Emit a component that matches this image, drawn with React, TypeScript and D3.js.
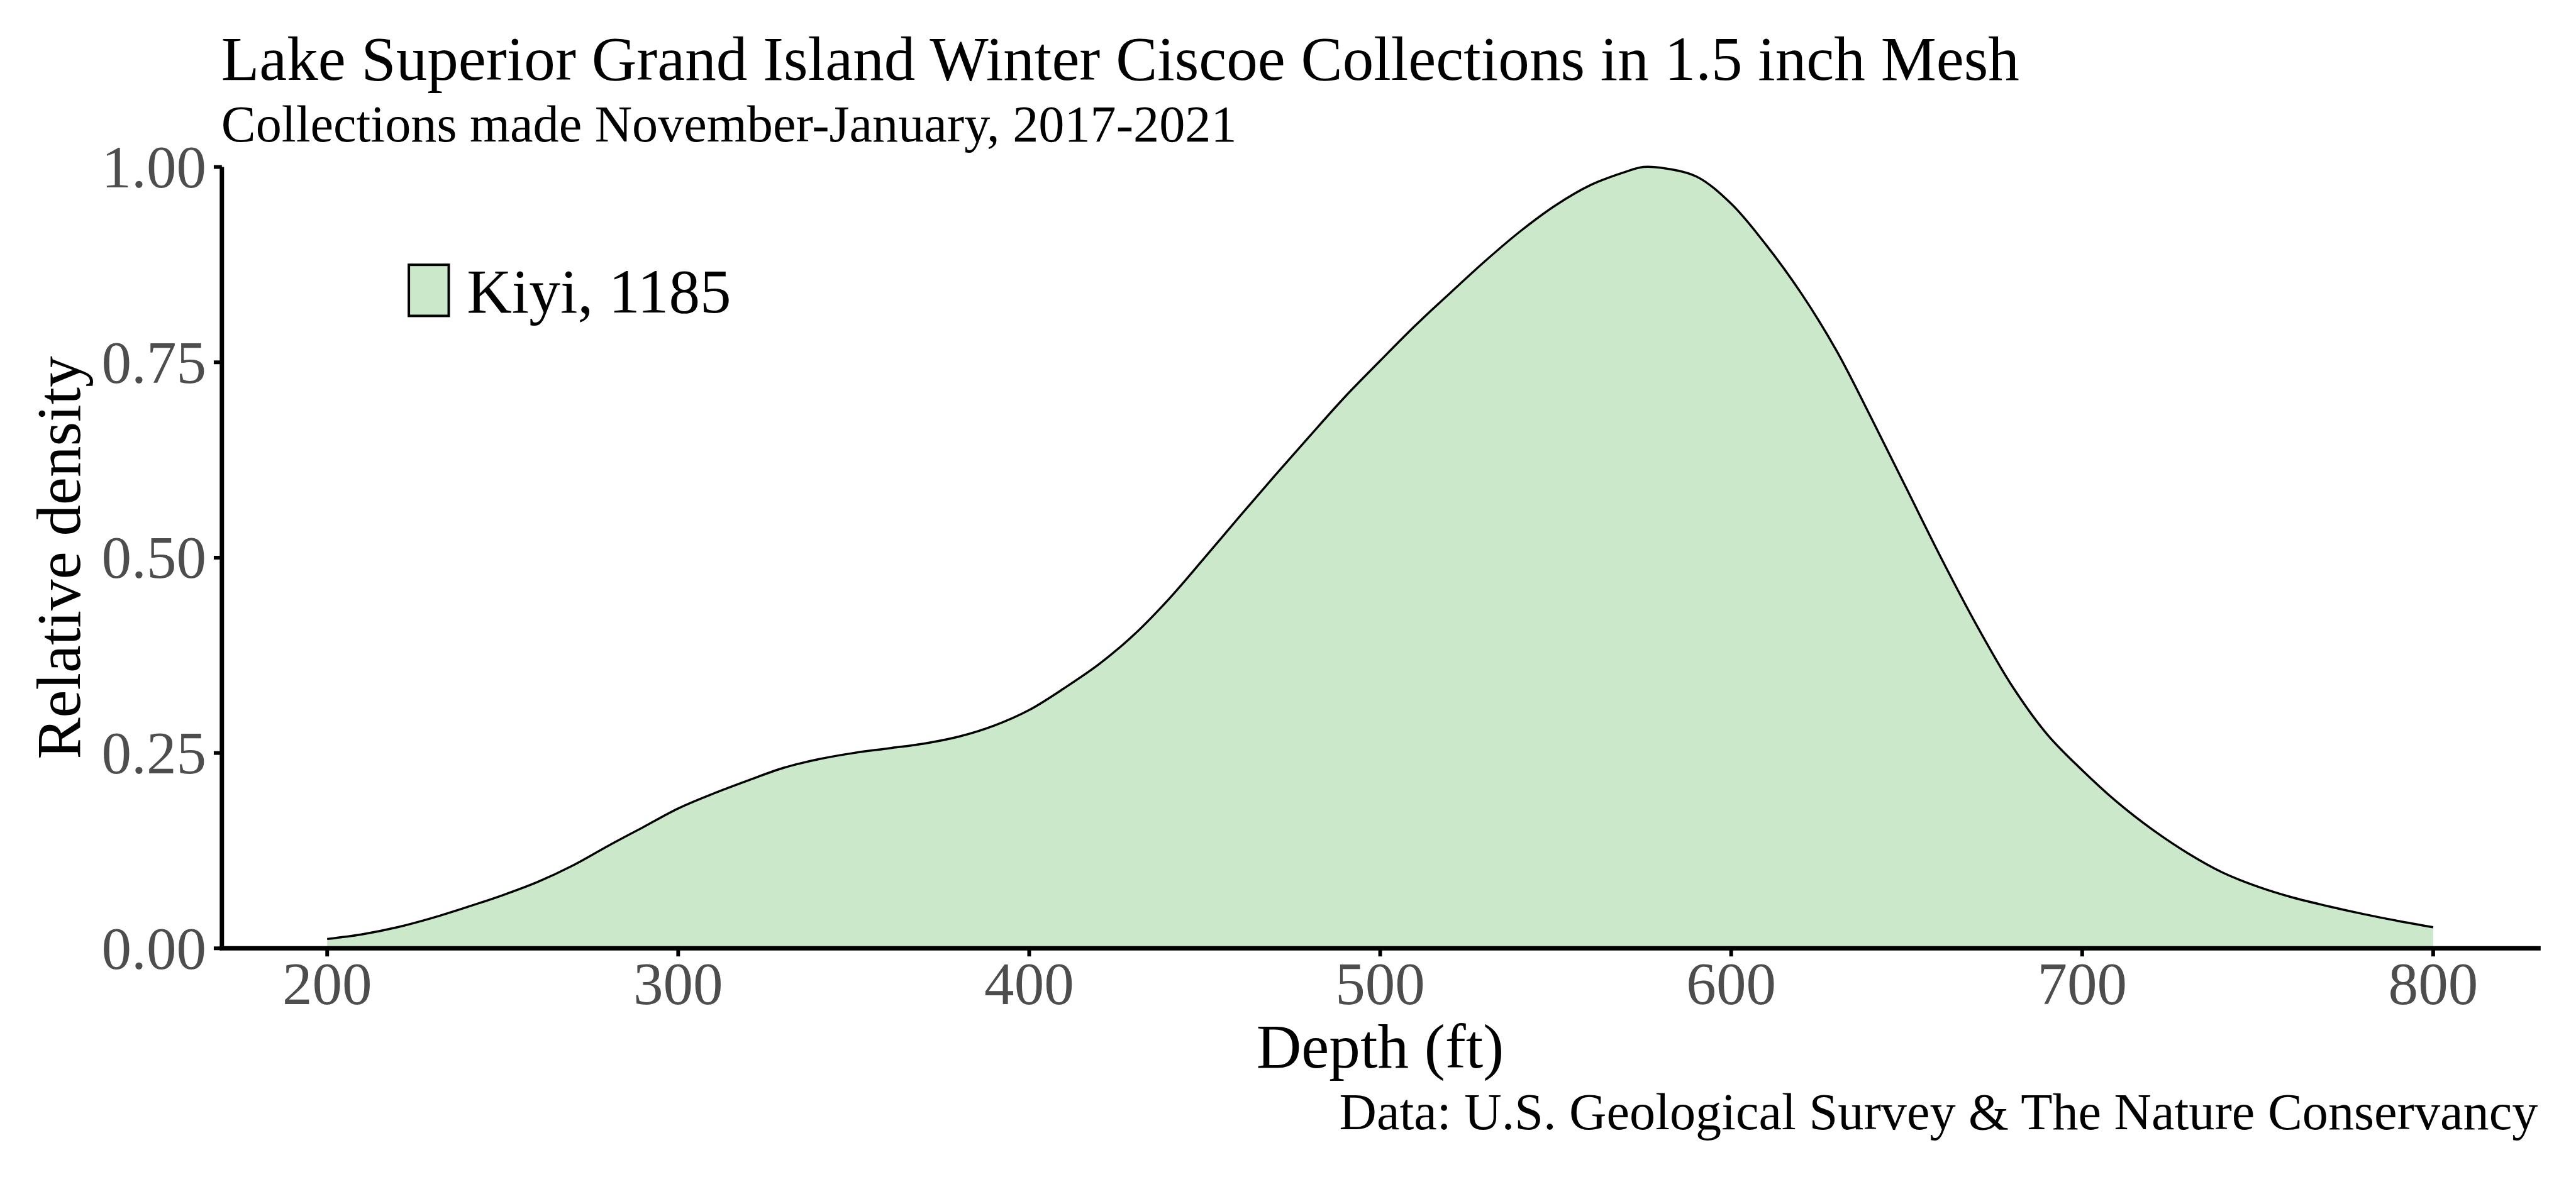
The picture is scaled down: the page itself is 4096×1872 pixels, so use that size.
import * as d3 from "d3";

// depth (ft) and relative density
const depths = [
  200, 210, 220, 230, 240, 250, 260, 270, 280, 290, 300, 310, 320, 330, 340,
  350, 360, 370, 380, 390, 400, 410, 420, 430, 440, 450, 460, 470, 480, 490,
  500, 510, 520, 530, 540, 550, 560, 570, 575, 580, 590, 600, 610, 620, 630,
  640, 650, 660, 670, 680, 690, 700, 710, 720, 730, 740, 750, 760, 770, 780,
  790, 800,
];
const density = [
  0.012, 0.018, 0.027, 0.039, 0.053, 0.068, 0.085, 0.106, 0.131, 0.155, 0.179,
  0.198, 0.215, 0.231, 0.242, 0.25, 0.256, 0.262, 0.271, 0.285, 0.305, 0.333,
  0.364, 0.402, 0.448, 0.5, 0.553, 0.605, 0.656, 0.706, 0.752, 0.797, 0.839,
  0.88, 0.918, 0.951, 0.977, 0.994, 1.0, 0.999, 0.988, 0.953, 0.9, 0.838,
  0.765, 0.678, 0.588, 0.498, 0.413, 0.336, 0.274, 0.228, 0.187, 0.152, 0.122,
  0.097, 0.079, 0.065, 0.054, 0.044, 0.035, 0.027,
];
const xTicks = [200, 300, 400, 500, 600, 700, 800];
const yTicks = [0, 0.25, 0.5, 0.75, 1];

const titleText = "Lake Superior Grand Island Winter Ciscoe Collections in 1.5 inch Mesh";
const subtitleText = "Collections made November-January, 2017-2021";
const captionText = "Data: U.S. Geological Survey & The Nature Conservancy";
const legendLabel = "Kiyi, 1185";

const FILL = "#cce8cb";
const FONT = "'Liberation Serif', 'Times New Roman', serif";

export default function App() {
  const S = 0.991;
  const left = 356;
  const right = 4073;
  const top = 268;
  const bottom = 1522;

  const x = d3.scaleLinear().domain([170, 830]).range([left, right]);
  const y = d3.scaleLinear().domain([0, 1]).range([bottom, top]);

  const pts = depths.map((d, i) => [d, density[i]] as [number, number]);

  const area = d3
    .area<[number, number]>()
    .x((d) => x(d[0]))
    .y0(y(0))
    .y1((d) => y(d[1]))
    .curve(d3.curveCatmullRom.alpha(0.5));
  const line = d3
    .line<[number, number]>()
    .x((d) => x(d[0]))
    .y((d) => y(d[1]))
    .curve(d3.curveCatmullRom.alpha(0.5));

  return (
    <svg
      width={4096}
      height={1872}
      style={{ position: "absolute", left: 0, top: 0, background: "#fff" }}
      fontFamily={FONT}
    >
      <rect width={4096} height={1872} fill="#fff" />
      <g transform={`scale(${S})`}>
        {/* titles */}
        <text x={355} y={128} fontSize={100} fill="#000">
          {titleText}
        </text>
        <text x={355} y={227} fontSize={83} fill="#000">
          {subtitleText}
        </text>

        {/* density */}
        <path d={area(pts) ?? ""} fill={FILL} />
        <path d={line(pts) ?? ""} fill="none" stroke="#000" strokeWidth={3.5} />

        {/* axes */}
        <line x1={left} x2={left} y1={top} y2={bottom} stroke="#000" strokeWidth={7} />
        <line
          x1={left}
          x2={right}
          y1={bottom}
          y2={bottom}
          stroke="#000"
          strokeWidth={7}
          strokeLinecap="square"
        />
        {yTicks.map((t) => (
          <g key={`y${t}`}>
            <line x1={left - 13} x2={left} y1={y(t)} y2={y(t)} stroke="#000" strokeWidth={6} />
            <text
              x={331}
              y={y(t)}
              dy="0.34em"
              textAnchor="end"
              fontSize={96}
              fill="#4d4d4d"
            >
              {t.toFixed(2)}
            </text>
          </g>
        ))}
        {xTicks.map((t) => (
          <g key={`x${t}`}>
            <line x1={x(t)} x2={x(t)} y1={bottom} y2={bottom + 13} stroke="#000" strokeWidth={6} />
            <text x={x(t)} y={1612} textAnchor="middle" fontSize={96} fill="#4d4d4d">
              {t}
            </text>
          </g>
        ))}

        {/* axis titles */}
        <text x={(left + right) / 2} y={1713} textAnchor="middle" fontSize={100} fill="#000">
          Depth (ft)
        </text>
        <text
          transform={`translate(128,${(top + bottom) / 2}) rotate(-90)`}
          textAnchor="middle"
          fontSize={100}
          fill="#000"
        >
          Relative density
        </text>

        {/* legend */}
        <rect x={656} y={425} width={64} height={82} fill={FILL} stroke="#000" strokeWidth={4} />
        <text x={749} y={502} fontSize={100} fill="#000">
          {legendLabel}
        </text>

        {/* caption */}
        <text x={4072} y={1812} textAnchor="end" fontSize={83} fill="#000">
          {captionText}
        </text>
      </g>
    </svg>
  );
}
